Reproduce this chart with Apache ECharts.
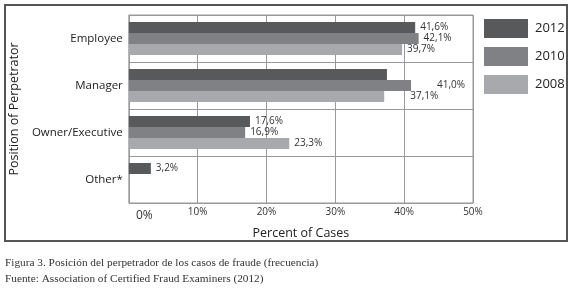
<!DOCTYPE html>
<html>
<head>
<meta charset="utf-8">
<script src="https://cdn.jsdelivr.net/npm/echarts@6/dist/echarts.min.js"></script>
<style>
  html, body { margin: 0; padding: 0; background: #fff; }
  #chart { width: 580px; height: 291px; }
</style>
</head>
<body>
<div id="chart"></div>
<script>
// datos
const categories = ['Employee', 'Manager', 'Owner/Executive', 'Other*']
const years = ['2012', '2010', '2008']
const values2012 = [41.6, 37.5, 17.6, 3.2]
const values2010 = [42.1, 41.0, 16.9, null]
const values2008 = [39.7, 37.1, 23.3, null]
const xTicks = ['0%', '10%', '20%', '30%', '40%', '50%']

const colors = ['#58595b', '#808184', '#a7a9ac']
const font = 'Open Sans'

// la barra de Manager 2012 no lleva etiqueta en el original
const hiddenLabels = { '2012': ['Manager'] }
const farLabels = { '2010': ['Manager'], '2008': ['Manager'] }

function fmt(v) {
  return v.toFixed(1).replace('.', ',') + '%'
}

function buildSeries(name, vals, idx) {
  return {
    name: name,
    type: 'bar',
    barWidth: 11,
    barGap: '0%',
    itemStyle: { color: colors[idx] },
    label: {
      show: true,
      position: 'right',
      distance: 5,
      fontFamily: font,
      fontSize: 10,
      color: '#333',
      formatter: (p) => fmt(p.value)
    },
    data: vals.map((v, i) => {
      const cat = categories[i]
      const item = { value: v }
      if ((hiddenLabels[name] || []).includes(cat)) {
        item.label = { show: false }
      } else if ((farLabels[name] || []).includes(cat)) {
        item.label = { distance: 26 }
      }
      return item
    })
  }
}

const chart = echarts.init(document.getElementById('chart'))
chart.setOption({
  animation: false,
  textStyle: { fontFamily: font },
  graphic: [
    {
      type: 'rect',
      shape: { x: 5, y: 5, width: 562, height: 236 },
      style: { fill: 'none', stroke: '#555', lineWidth: 2 },
      z: -1
    },
    {
      type: 'text',
      left: 5,
      top: 258,
      style: {
        text: 'Figura 3. Posición del perpetrador de los casos de fraude (frecuencia)',
        font: '11.3px "Liberation Serif"',
        fill: '#333'
      }
    },
    {
      type: 'text',
      left: 5,
      top: 274,
      style: {
        text: 'Fuente: Association of Certified Fraud Examiners (2012)',
        font: '11.3px "Liberation Serif"',
        fill: '#333'
      }
    }
  ],
  legend: {
    data: years,
    orient: 'vertical',
    left: 484,
    top: 19,
    padding: 0,
    icon: 'rect',
    itemWidth: 44,
    itemHeight: 19,
    itemGap: 9,
    textStyle: { fontFamily: font, fontSize: 13, color: '#222', padding: [0, 0, 0, 2] }
  },
  grid: {
    left: 126,
    top: 15,
    width: 347,
    height: 188,
    show: true,
    borderColor: '#999',
    borderWidth: 1,
    containLabel: false
  },
  xAxis: {
    type: 'value',
    min: 0,
    max: 50,
    interval: 10,
    name: 'Percent of Cases',
    nameLocation: 'middle',
    nameGap: 19,
    nameTextStyle: { fontFamily: font, fontSize: 12.5, color: '#222' },
    axisLine: { show: false },
    axisTick: { show: false },
    splitLine: { show: true, lineStyle: { color: '#999', width: 1 } },
    axisLabel: {
      margin: 4,
      fontFamily: font,
      fontSize: 10,
      color: '#333',
      formatter: (v) => {
        const t = xTicks[v / 10]
        return v === 0 ? '{z|' + t + '}' : t
      },
      rich: {
        z: { fontFamily: font, fontSize: 12, color: '#333', padding: [3, 0, 0, 31] }
      }
    }
  },
  yAxis: {
    type: 'category',
    data: categories,
    inverse: true,
    name: 'Position of Perpetrator',
    nameLocation: 'middle',
    nameGap: 101,
    nameTextStyle: { fontFamily: font, fontSize: 12.5, color: '#222' },
    axisLine: { show: false },
    axisTick: { show: false },
    splitLine: { show: true, lineStyle: { color: '#999', width: 1 } },
    axisLabel: {
      margin: 6,
      fontFamily: font,
      fontSize: 11.5,
      color: '#222'
    }
  },
  series: [
    buildSeries('2012', values2012, 0),
    buildSeries('2010', values2010, 1),
    buildSeries('2008', values2008, 2)
  ]
})
</script>
</body>
</html>
